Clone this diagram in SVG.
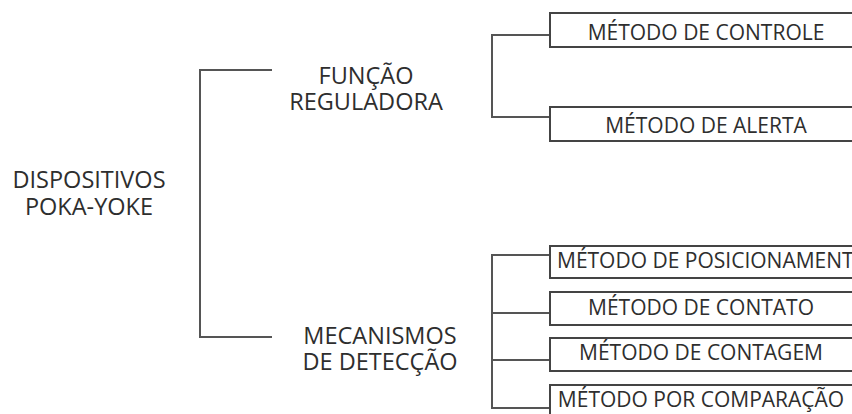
<svg xmlns="http://www.w3.org/2000/svg" width="852" height="414" viewBox="0 0 852 414">
<style>
.t{font-family:"Open Sans","Noto Sans",sans-serif;font-size:21px;fill:#2e2e2e;text-anchor:middle}
.h{font-size:23.5px}
.l{fill:none;stroke:#555;stroke-width:2}
.b{fill:#fff;stroke:#444;stroke-width:2}
</style>
<rect width="852" height="414" fill="#fff"/>
<g id="connectors">
<path class="l" d="M272 70H200V337H272"/>
<path class="l" d="M550 35H492V117H550"/>
<path class="l" d="M550 255H492V408H550M492 313H550M492 360H550"/>
</g>
<g id="root"><text class="t h" x="89" y="188">DISPOSITIVOS</text><text class="t h" x="89" y="215">POKA-YOKE</text></g>
<g id="funcao"><text class="t h" x="366" y="84">FUNÇÃO</text><text class="t h" x="366" y="110">REGULADORA</text></g>
<g id="mecanismos"><text class="t h" x="380" y="344">MECANISMOS</text><text class="t h" x="380" y="370">DE DETECÇÃO</text></g>
<g id="controle"><rect class="b" x="550" y="13" width="320" height="34"/><text class="t" x="706" y="40">MÉTODO DE CONTROLE</text></g>
<g id="alerta"><rect class="b" x="550" y="107" width="320" height="34"/><text class="t" x="706" y="133">MÉTODO DE ALERTA</text></g>
<g id="posicionamento"><rect class="b" x="550" y="246" width="320" height="32"/><text class="t" x="557" y="268" style="text-anchor:start">MÉTODO DE POSICIONAMENTO</text></g>
<g id="contato"><rect class="b" x="550" y="292" width="320" height="33"/><text class="t" x="701" y="315">MÉTODO DE CONTATO</text></g>
<g id="contagem"><rect class="b" x="550" y="338" width="320" height="33"/><text class="t" x="701" y="360">MÉTODO DE CONTAGEM</text></g>
<g id="comparacao"><rect class="b" x="550" y="385" width="320" height="40"/><text class="t" x="701" y="407">MÉTODO POR COMPARAÇÃO</text></g>
</svg>
